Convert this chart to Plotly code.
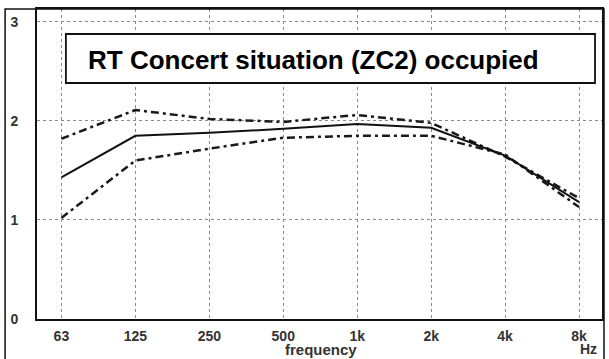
import plotly.graph_objects as go

freq_labels = ["63", "125", "250", "500", "1k", "2k", "4k", "8k"]
rt_mean = [1.43, 1.85, 1.88, 1.92, 1.97, 1.93, 1.65, 1.18]
rt_upper = [1.82, 2.11, 2.02, 1.99, 2.06, 1.98, 1.64, 1.22]
rt_lower = [1.02, 1.60, 1.72, 1.83, 1.85, 1.85, 1.66, 1.13]
y_ticks = [0, 1, 2, 3]
title_text = "RT Concert situation (ZC2) occupied"

xpos = list(range(len(freq_labels)))
dashdot = "8px,4px,3px,4px"
FONT = "Liberation Sans, Arial, sans-serif"

fig = go.Figure()
fig.add_trace(go.Scatter(x=xpos, y=rt_upper, mode="lines",
                         line=dict(color="#1a1a1a", width=2.5, dash=dashdot)))
fig.add_trace(go.Scatter(x=xpos, y=rt_lower, mode="lines",
                         line=dict(color="#1a1a1a", width=2.5, dash=dashdot)))
fig.add_trace(go.Scatter(x=xpos, y=rt_mean, mode="lines",
                         line=dict(color="#111111", width=2)))

fig.update_layout(
    width=609, height=359,
    margin=dict(l=37, r=5, t=9, b=40),
    paper_bgcolor="white", plot_bgcolor="white",
    showlegend=False,
    font=dict(family=FONT, color="#333333"),
)
fig.update_xaxes(
    range=[-0.33, 7.31], tickvals=xpos, ticktext=freq_labels,
    showgrid=True, gridcolor="#8a8a8a", griddash="dot", gridwidth=1,
    showline=True, linecolor="#111111", linewidth=2, mirror=True,
    ticks="", zeroline=False, ticklabelstandoff=3,
    tickfont=dict(size=14, family=FONT, weight="bold", color="#333333"),
)
fig.update_yaxes(
    range=[0, 3.13], tickvals=y_ticks, ticktext=[str(v) for v in y_ticks],
    showgrid=True, gridcolor="#8a8a8a", griddash="dot", gridwidth=1,
    showline=True, linecolor="#111111", linewidth=2, mirror=True,
    ticks="", zeroline=False, ticklabelstandoff=14,
    tickfont=dict(size=14, family=FONT, weight="bold", color="#333333"),
)

# outer frame
fig.add_shape(type="rect", xref="paper", yref="paper",
              x0=(5 - 37) / 567, x1=(606 - 37) / 567, y0=-0.2, y1=1.0,
              line=dict(color="#111111", width=1.5), fillcolor="rgba(0,0,0,0)", layer="above")
# title box
fig.add_shape(type="rect", xref="paper", yref="paper",
              x0=(66 - 37) / 567, x1=(597 - 37) / 567,
              y0=(319 - 83) / 310, y1=(319 - 34) / 310,
              line=dict(color="#111111", width=1.8), fillcolor="white", layer="above")
fig.add_annotation(text=title_text, xref="paper", yref="paper",
                   x=(86 - 37) / 567, y=(319 - 60) / 310, xanchor="left", yanchor="middle",
                   showarrow=False,
                   font=dict(size=26, family=FONT, weight="bold", color="#000000"))
fig.add_annotation(text="frequency", xref="paper", yref="paper",
                   x=(322 - 37) / 567, y=(319 - 349) / 310, xanchor="center", yanchor="middle",
                   showarrow=False,
                   font=dict(size=15, family=FONT, weight="bold", color="#333333"))
fig.add_annotation(text="Hz", xref="paper", yref="paper",
                   x=(590 - 37) / 567, y=(319 - 349) / 310, xanchor="center", yanchor="middle",
                   showarrow=False,
                   font=dict(size=14, family=FONT, weight="bold", color="#333333"))

fig.write_html("out.html")
